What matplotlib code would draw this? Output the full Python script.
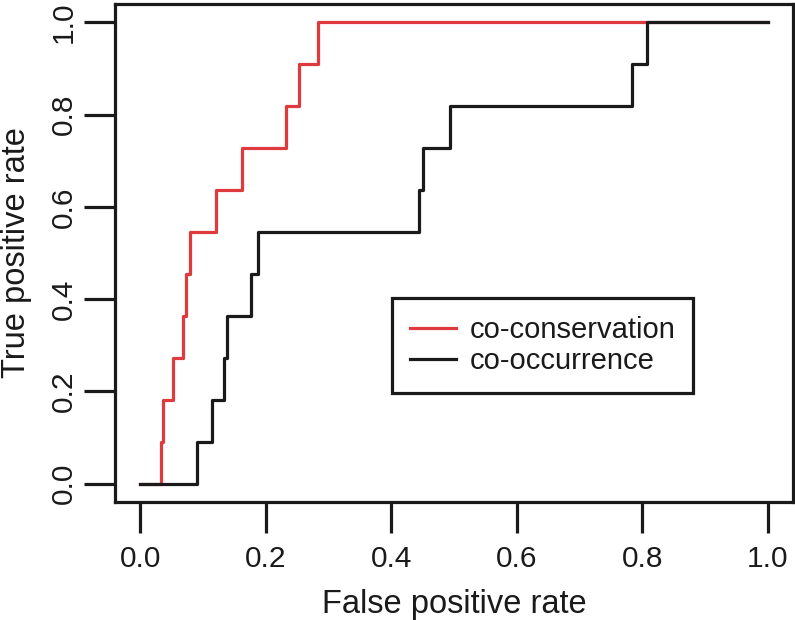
import matplotlib
matplotlib.use("Agg")
import matplotlib.pyplot as plt

plt.rcParams['font.family'] = ['Liberation Sans', 'DejaVu Sans']

# ROC curves (step points, false positive rate -> true positive rate)
tpr = [0.0, 0.091, 0.182, 0.273, 0.364, 0.455, 0.545, 0.636, 0.727, 0.818, 0.909, 1.0, 1.0]
fpr_cons = [0.0, 0.033, 0.036, 0.053, 0.069, 0.073, 0.079, 0.121, 0.163, 0.232, 0.253, 0.284, 1.0]
fpr_occ = [0.0, 0.091, 0.115, 0.133, 0.138, 0.177, 0.187, 0.444, 0.450, 0.494, 0.783, 0.808, 1.0]
labels = ["co-conservation", "co-occurrence"]
colors = ["#df3b3f", "#1a1a1a"]
ticks = [0.0, 0.2, 0.4, 0.6, 0.8, 1.0]

fig = plt.figure(figsize=(7.95, 6.2), dpi=100)
ax = fig.add_axes([115 / 795, 118 / 620, 678 / 795, 498 / 620])

lw = 2.3
ax.plot(fpr_cons, tpr, drawstyle="steps-post", color=colors[0], lw=lw, label=labels[0])
ax.plot(fpr_occ, tpr, drawstyle="steps-post", color=colors[1], lw=lw, label=labels[1])

ax.set_xlim(-0.04, 1.04)
ax.set_ylim(-0.04, 1.04)
ax.set_xticks(ticks)
ax.set_yticks(ticks)
ax.set_xticklabels([f"{t:.1f}" for t in ticks])
ax.set_yticklabels([f"{t:.1f}" for t in ticks], rotation=90, va="center")
ax.tick_params(direction="out", length=22, width=lw, labelsize=21.5, colors="#1a1a1a")
ax.tick_params(axis="x", pad=9)
ax.tick_params(axis="y", pad=5)
for s in ax.spines.values():
    s.set_linewidth(lw)
    s.set_color("#1a1a1a")

ax.set_xlabel("False positive rate", fontsize=23.5, color="#1a1a1a")
ax.xaxis.label.set_va("center")
ax.xaxis.set_label_coords(0.5, -0.205)
ax.set_ylabel("True positive rate", fontsize=23.5, color="#1a1a1a")
ax.yaxis.label.set_va("center")
ax.yaxis.set_label_coords(-0.145, 0.5)

leg = ax.legend(loc="upper left", bbox_to_anchor=((392 - 115) / 678, (502 - 298) / 498),
                fontsize=21, frameon=True, fancybox=False, framealpha=1,
                edgecolor="#1a1a1a", handlelength=1.58, handletextpad=0.45,
                borderpad=0.62, labelspacing=0.1, borderaxespad=0)
leg.get_frame().set_linewidth(lw)
for t in leg.get_texts():
    t.set_color("#1a1a1a")

fig.savefig("out.png", dpi=100)
